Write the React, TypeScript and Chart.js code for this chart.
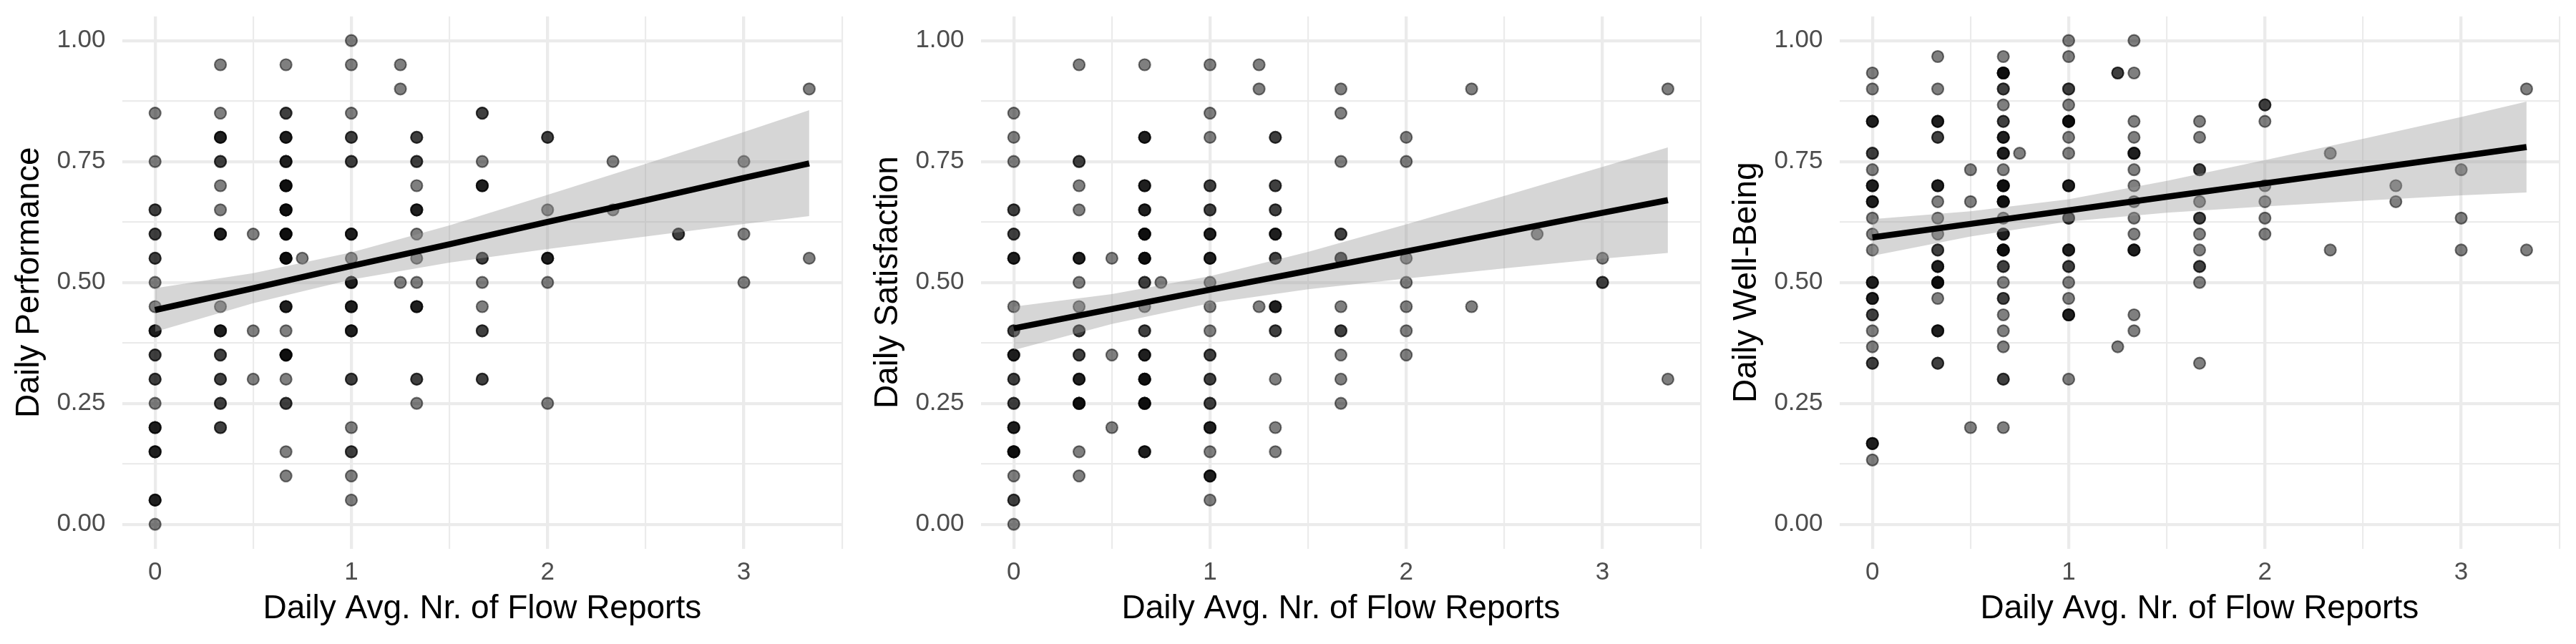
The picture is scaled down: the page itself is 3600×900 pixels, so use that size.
import { useEffect, useRef } from "react";
import { Chart, registerables } from "chart.js";

Chart.register(...registerables);

const FONT = "'Liberation Sans', Arial, Helvetica, sans-serif";

const xTitle = "Daily Avg. Nr. of Flow Reports";
const yTitles = ["Daily Performance", "Daily Satisfaction", "Daily Well-Being"];

// x positions of the point columns (daily average number of flow reports)
const xColumns = [0, 0.333, 0.5, 0.667, 0.75, 1, 1.25, 1.333, 1.667, 2, 2.333, 2.667, 3, 3.333];

// y values per column (repeated values = overlapping observations)
const performanceY = [
  [0.85, 0.75, 0.65, 0.65, 0.6, 0.6, 0.55, 0.55, 0.5, 0.45, 0.4, 0.4, 0.4, 0.35, 0.35, 0.3, 0.3, 0.25, 0.2, 0.2, 0.2, 0.15, 0.15, 0.15, 0.05, 0.05, 0.05, 0.0],
  [0.95, 0.85, 0.8, 0.8, 0.8, 0.75, 0.75, 0.7, 0.65, 0.6, 0.6, 0.6, 0.45, 0.4, 0.4, 0.4, 0.35, 0.35, 0.3, 0.3, 0.25, 0.25, 0.2, 0.2],
  [0.6, 0.4, 0.3],
  [0.95, 0.85, 0.85, 0.8, 0.8, 0.8, 0.75, 0.75, 0.75, 0.7, 0.7, 0.7, 0.7, 0.65, 0.65, 0.65, 0.65, 0.6, 0.6, 0.6, 0.6, 0.55, 0.55, 0.55, 0.55, 0.45, 0.45, 0.45, 0.4, 0.35, 0.35, 0.35, 0.35, 0.3, 0.25, 0.25, 0.15, 0.1],
  [0.55],
  [1.0, 0.95, 0.85, 0.8, 0.8, 0.75, 0.75, 0.6, 0.6, 0.6, 0.55, 0.5, 0.5, 0.5, 0.45, 0.45, 0.45, 0.4, 0.4, 0.4, 0.3, 0.3, 0.2, 0.15, 0.15, 0.1, 0.05],
  [0.95, 0.9, 0.5],
  [0.8, 0.8, 0.75, 0.75, 0.7, 0.65, 0.65, 0.65, 0.6, 0.55, 0.5, 0.45, 0.45, 0.45, 0.3, 0.3, 0.25],
  [0.85, 0.85, 0.75, 0.7, 0.7, 0.7, 0.55, 0.55, 0.5, 0.45, 0.4, 0.4, 0.3, 0.3],
  [0.8, 0.8, 0.65, 0.55, 0.55, 0.55, 0.5, 0.25],
  [0.75, 0.65],
  [0.6, 0.6],
  [0.75, 0.6, 0.5],
  [0.9, 0.55],
];

const satisfactionY = [
  [0.85, 0.8, 0.75, 0.65, 0.65, 0.6, 0.6, 0.55, 0.55, 0.55, 0.45, 0.4, 0.4, 0.35, 0.35, 0.35, 0.3, 0.3, 0.25, 0.25, 0.2, 0.2, 0.2, 0.15, 0.15, 0.15, 0.15, 0.1, 0.05, 0.05, 0.0],
  [0.95, 0.75, 0.75, 0.7, 0.65, 0.55, 0.55, 0.55, 0.5, 0.45, 0.4, 0.4, 0.35, 0.35, 0.3, 0.3, 0.3, 0.25, 0.25, 0.25, 0.25, 0.15, 0.1],
  [0.55, 0.35, 0.2],
  [0.95, 0.8, 0.8, 0.8, 0.7, 0.7, 0.7, 0.65, 0.65, 0.65, 0.6, 0.6, 0.6, 0.6, 0.55, 0.55, 0.55, 0.55, 0.5, 0.5, 0.45, 0.4, 0.4, 0.35, 0.35, 0.35, 0.3, 0.3, 0.3, 0.3, 0.25, 0.25, 0.25, 0.25, 0.15, 0.15, 0.15],
  [0.5],
  [0.95, 0.85, 0.8, 0.7, 0.7, 0.65, 0.65, 0.6, 0.6, 0.6, 0.55, 0.55, 0.55, 0.5, 0.45, 0.4, 0.35, 0.35, 0.3, 0.3, 0.25, 0.25, 0.2, 0.2, 0.2, 0.15, 0.1, 0.1, 0.1, 0.05],
  [0.95, 0.9, 0.45],
  [0.8, 0.8, 0.7, 0.7, 0.65, 0.65, 0.6, 0.6, 0.6, 0.55, 0.55, 0.45, 0.45, 0.45, 0.4, 0.4, 0.3, 0.2, 0.15],
  [0.9, 0.85, 0.75, 0.6, 0.6, 0.55, 0.55, 0.45, 0.4, 0.4, 0.35, 0.3, 0.25],
  [0.8, 0.75, 0.55, 0.5, 0.45, 0.4, 0.35],
  [0.9, 0.45],
  [0.6],
  [0.55, 0.5, 0.5],
  [0.9, 0.3],
];

const wellBeingY = [
  [0.933, 0.9, 0.833, 0.833, 0.833, 0.767, 0.767, 0.733, 0.7, 0.7, 0.7, 0.667, 0.667, 0.667, 0.633, 0.6, 0.567, 0.5, 0.5, 0.5, 0.467, 0.467, 0.467, 0.433, 0.433, 0.4, 0.367, 0.333, 0.333, 0.167, 0.167, 0.167, 0.133],
  [0.967, 0.9, 0.833, 0.833, 0.833, 0.8, 0.8, 0.7, 0.7, 0.7, 0.667, 0.633, 0.6, 0.567, 0.567, 0.533, 0.533, 0.533, 0.5, 0.5, 0.5, 0.5, 0.467, 0.4, 0.4, 0.4, 0.333, 0.333],
  [0.733, 0.667, 0.2],
  [0.967, 0.933, 0.933, 0.933, 0.933, 0.9, 0.9, 0.867, 0.833, 0.833, 0.8, 0.8, 0.8, 0.767, 0.767, 0.767, 0.733, 0.7, 0.7, 0.7, 0.7, 0.667, 0.667, 0.667, 0.667, 0.633, 0.6, 0.6, 0.6, 0.567, 0.567, 0.567, 0.567, 0.533, 0.533, 0.5, 0.467, 0.467, 0.433, 0.4, 0.367, 0.3, 0.3, 0.2],
  [0.767],
  [1.0, 0.967, 0.9, 0.9, 0.867, 0.833, 0.833, 0.833, 0.833, 0.8, 0.767, 0.7, 0.7, 0.7, 0.633, 0.633, 0.567, 0.567, 0.567, 0.533, 0.533, 0.5, 0.467, 0.433, 0.433, 0.433, 0.3],
  [0.933, 0.933, 0.367],
  [1.0, 0.933, 0.833, 0.8, 0.767, 0.767, 0.767, 0.733, 0.7, 0.667, 0.633, 0.6, 0.567, 0.567, 0.567, 0.433, 0.4],
  [0.833, 0.8, 0.733, 0.733, 0.667, 0.633, 0.633, 0.6, 0.567, 0.533, 0.533, 0.5, 0.333],
  [0.867, 0.867, 0.833, 0.7, 0.667, 0.633, 0.6],
  [0.767, 0.567],
  [0.7, 0.667],
  [0.733, 0.633, 0.567],
  [0.9, 0.567],
];

// fitted regression line and 95% band, read at these x positions
const fitX = [0, 0.5, 1, 1.5, 2, 2.5, 3, 3.333];

const performanceFit = [0.443, 0.488, 0.534, 0.579, 0.625, 0.67, 0.716, 0.746];
const performanceLower = [0.398, 0.457, 0.506, 0.541, 0.569, 0.595, 0.621, 0.637];
const performanceUpper = [0.488, 0.519, 0.562, 0.618, 0.681, 0.745, 0.811, 0.856];

const satisfactionFit = [0.405, 0.445, 0.485, 0.524, 0.564, 0.604, 0.644, 0.67];
const satisfactionLower = [0.36, 0.414, 0.457, 0.486, 0.508, 0.529, 0.549, 0.561];
const satisfactionUpper = [0.45, 0.476, 0.513, 0.563, 0.62, 0.679, 0.739, 0.779];

const wellBeingFit = [0.593, 0.621, 0.649, 0.677, 0.705, 0.733, 0.761, 0.78];
const wellBeingLower = [0.555, 0.595, 0.626, 0.644, 0.657, 0.669, 0.68, 0.686];
const wellBeingUpper = [0.631, 0.647, 0.672, 0.71, 0.753, 0.797, 0.842, 0.874];

// grid: major + minor breaks
const xTicks = [0, 0.5, 1, 1.5, 2, 2.5, 3, 3.5];
const yTicks = [0, 0.125, 0.25, 0.375, 0.5, 0.625, 0.75, 0.875, 1];
const xTickLabels: Record<string, string> = { "0": "0", "1": "1", "2": "2", "3": "3" };
const yTickLabels: Record<string, string> = { "0": "0.00", "0.25": "0.25", "0.5": "0.50", "0.75": "0.75", "1": "1.00" };

const X_MIN = -0.16667;
const X_MAX = 3.5;
const Y_MIN = -0.05;
const Y_MAX = 1.05;

type PanelProps = {
  yTitle: string;
  columns: number[][];
  fit: number[];
  lower: number[];
  upper: number[];
};

function Panel({ yTitle, columns, fit, lower, upper }: PanelProps) {
  const ref = useRef<HTMLCanvasElement | null>(null);

  useEffect(() => {
    if (!ref.current) return;
    const points = columns.flatMap((ys, i) => ys.map((y) => ({ x: xColumns[i], y })));
    const toXY = (arr: number[]) => fitX.map((x, i) => ({ x, y: arr[i] }));
    const gridWidth = (major: boolean) => (major ? 4.3 : 2.15);

    const chart = new Chart(ref.current, {
      type: "scatter",
      data: {
        datasets: [
          {
            type: "scatter",
            data: points,
            pointRadius: 8,
            pointHoverRadius: 8,
            pointBorderWidth: 2.2,
            backgroundColor: "rgba(0,0,0,0.5)",
            borderColor: "rgba(0,0,0,0.5)",
            order: 3,
          } as any,
          {
            type: "line",
            data: toXY(lower),
            borderColor: "rgba(0,0,0,0)",
            borderWidth: 0,
            pointRadius: 0,
            fill: false,
            order: 2,
          } as any,
          {
            type: "line",
            data: toXY(upper),
            borderColor: "rgba(0,0,0,0)",
            borderWidth: 0,
            pointRadius: 0,
            fill: "-1",
            backgroundColor: "rgba(153,153,153,0.4)",
            order: 2,
          } as any,
          {
            type: "line",
            data: toXY(fit),
            borderColor: "#000000",
            borderWidth: 8.5,
            borderCapStyle: "butt",
            pointRadius: 0,
            fill: false,
            order: 1,
          } as any,
        ],
      },
      options: {
        responsive: false,
        animation: false,
        devicePixelRatio: 1,
        layout: { padding: { left: 0, right: 23.3, top: 22.9, bottom: 0 } },
        plugins: {
          legend: { display: false },
          tooltip: { enabled: false },
        },
        events: [],
        scales: {
          x: {
            type: "linear",
            min: X_MIN,
            max: X_MAX,
            afterBuildTicks: (s: any) => {
              s.ticks = xTicks.map((v) => ({ value: v }));
            },
            afterFit: (s: any) => {
              s.height = 133.5;
              s.paddingLeft = 0;
              s.paddingRight = 0;
              s.paddingTop = 0;
              s.paddingBottom = 0;
            },
            ticks: {
              autoSkip: false,
              maxRotation: 0,
              minRotation: 0,
              padding: 13,
              color: "#4D4D4D",
              font: { family: FONT, size: 35 },
              callback: (v: any) => xTickLabels[String(v)] ?? "",
            },
            grid: {
              color: "#EBEBEB",
              drawTicks: false,
              lineWidth: (ctx: any) => gridWidth(Number.isInteger(ctx.tick?.value)),
            },
            border: { display: false },
            title: {
              display: true,
              text: xTitle,
              color: "#000000",
              font: { family: FONT, size: 46 },
              padding: { top: 0, bottom: 21 },
            },
          },
          y: {
            type: "linear",
            min: Y_MIN,
            max: Y_MAX,
            afterBuildTicks: (s: any) => {
              s.ticks = yTicks.map((v) => ({ value: v }));
            },
            afterFit: (s: any) => {
              s.width = 171;
              s.paddingLeft = 0;
              s.paddingRight = 0;
              s.paddingTop = 0;
              s.paddingBottom = 0;
            },
            ticks: {
              autoSkip: false,
              padding: 23.5,
              color: "#4D4D4D",
              font: { family: FONT, size: 35 },
              callback: (v: any) => yTickLabels[String(v)] ?? "",
            },
            grid: {
              color: "#EBEBEB",
              drawTicks: false,
              lineWidth: (ctx: any) => {
                const v = ctx.tick?.value ?? 0;
                return gridWidth(Math.abs(v * 4 - Math.round(v * 4)) < 1e-9);
              },
            },
            border: { display: false },
            title: {
              display: true,
              text: yTitle,
              color: "#000000",
              font: { family: FONT, size: 46 },
              padding: { top: 14, bottom: 0 },
            },
          },
        },
      } as any,
    });

    return () => chart.destroy();
  }, [yTitle, columns, fit, lower, upper]);

  return (
    <canvas
      ref={ref}
      width={1200}
      height={900}
      style={{ display: "block", width: 1200, height: 900 }}
    />
  );
}

export default function App() {
  return (
    <div
      style={{
        position: "absolute",
        left: 0,
        top: 0,
        width: 3600,
        height: 900,
        display: "flex",
        background: "#ffffff",
      }}
    >
      <Panel yTitle={yTitles[0]} columns={performanceY} fit={performanceFit} lower={performanceLower} upper={performanceUpper} />
      <Panel yTitle={yTitles[1]} columns={satisfactionY} fit={satisfactionFit} lower={satisfactionLower} upper={satisfactionUpper} />
      <Panel yTitle={yTitles[2]} columns={wellBeingY} fit={wellBeingFit} lower={wellBeingLower} upper={wellBeingUpper} />
    </div>
  );
}
